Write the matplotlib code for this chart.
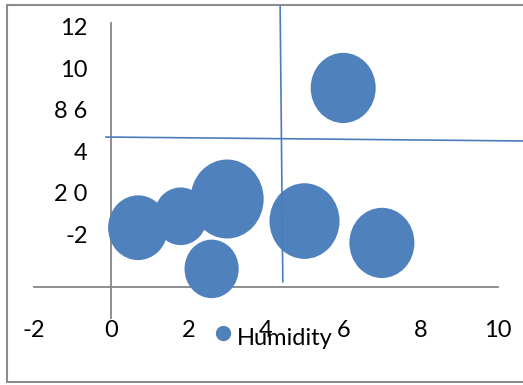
import matplotlib.pyplot as plt
from matplotlib.patches import Ellipse
from matplotlib.lines import Line2D

# bubble data (Humidity)
x_vals = [0.7, 1.8, 3.0, 2.6, 5.0, 7.0, 6.0]
y_vals = [-1.65, -1.1, -0.27, -3.63, -1.33, -2.38, 5.07]
sizes = [1.55, 1.38, 1.89, 1.40, 1.81, 1.68, 1.68]

xtick_vals = [-2, 0, 2, 4, 6, 8, 10]
xtick_labels = ["-2", "0", "2", "4", "6", "8", "10"]
ytick_vals = [8, 6, 4, 2, 0, -2]
ytick_labels = ["12", "10", "8 6", "4", "2 0", "-2"]

blue = "#4f81bd"
line_blue = "#4a7ebb"
gray = "#868686"
font = "Lato"

fig = plt.figure(figsize=(5.23, 3.85), dpi=100)
ax = fig.add_axes([0, 0, 1, 1])
ax.set_xlim(-2.868, 10.646)
ax.set_ylim(-9.212, 9.298)
ax.axis("off")

# bubbles (slightly taller than wide, like the original)
for x, y, s in zip(x_vals, y_vals, sizes):
    ax.add_patch(Ellipse((x, y), s, s * 38.7 / 20.8 * 1.08, color=blue, lw=0, zorder=3))

# gray axes
ax.plot([0, 0], [-6.0, 8.2], color=gray, lw=1.3, zorder=2)
ax.plot([-2, 10], [-4.5, -4.5], color=gray, lw=1.3, zorder=2)

# blue cross lines
ax.plot([-0.13, 10.65], [2.71, 2.52], color=line_blue, lw=1.2, zorder=4)
ax.plot([4.37, 4.44], [9.05, -4.25], color=line_blue, lw=1.2, zorder=4)

for v, lab in zip(xtick_vals, xtick_labels):
    ax.text(v, -6.9, lab, ha="center", va="baseline", fontsize=17, family=font)
for v, lab in zip(ytick_vals, ytick_labels):
    ax.text(-0.6, v - 0.38, lab, ha="right", va="baseline", fontsize=17, family=font)

# legend
ax.plot([2.89], [-6.71], "o", color=blue, ms=10, zorder=5)
ax.text(3.26, -7.29, "Humidity", ha="left", va="baseline", fontsize=17, family=font, zorder=6)

# outer frame (top, left, bottom; right edge is cut off)
fig.add_artist(Line2D([530, 7, 7, 530], [380, 380, 3, 3], transform=None, color="#8c8c8c", lw=1.5))

fig.savefig("out.png", dpi=100)
